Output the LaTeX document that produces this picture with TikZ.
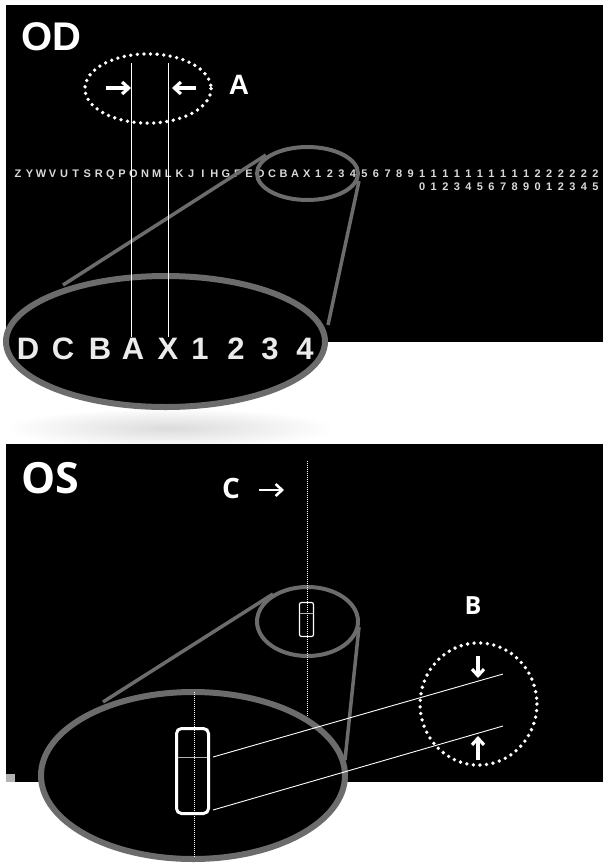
\documentclass[tikz,border=0pt]{standalone}
\usepackage{fontspec}
\setmainfont{Liberation Sans}
\newfontfamily\osfont{Open Sans}
\usetikzlibrary{arrows.meta}
\definecolor{lensgray}{RGB}{108,108,108}
\definecolor{chartgray}{RGB}{218,218,218}

\begin{document}
\begin{tikzpicture}[x=1pt,y=-1pt,
  lens/.style={draw=lensgray,fill=black},
  cone/.style={draw=lensgray,line width=3.5pt},
  dotring/.style={draw=white,line width=3.8pt,line cap=round,dash pattern=on 0pt off 6.6pt},
  guide/.style={draw=white,line width=0.9pt},
  fineguide/.style={draw=white,line width=0.5pt,dash pattern=on 1pt off 1pt},
  ptr/.style={draw=white,line width=3.2pt,-{Straight Barb[length=6.5pt,width=12pt]}},
  rowtxt/.style={text=chartgray,anchor=base,inner sep=0pt,font=\bfseries\fontsize{11}{11}\selectfont},
  bigtxt/.style={text=white!92!black,anchor=base,inner sep=0pt,font=\bfseries\fontsize{31}{31}\selectfont},
  lbl/.style={text=white,inner sep=0pt}]
\useasboundingbox (0,0) rectangle (603,865);
\fill[white] (0,0) rectangle (603,865);
% shadow under the OD lens
\shade[inner color=black!14,outer color=white] (170,428) ellipse (165 and 20);
% OD panel
\fill[black] (6,5) rectangle (603,342);
\node[lbl,font=\bfseries\fontsize{40}{40}\selectfont] (od) at (51,37) {OD};
\draw[dotring] (148,88.5) ellipse (63.1 and 34.6);
\node[lbl,font=\bfseries\fontsize{28}{28}\selectfont] (a) at (239,85) {A};
\node[rowtxt] (t0) at (18,177) {Z};
\node[rowtxt] (t1) at (29.55,177) {Y};
\node[rowtxt] (t2) at (41.1,177) {W};
\node[rowtxt] (t3) at (52.65,177) {V};
\node[rowtxt] (t4) at (64.2,177) {U};
\node[rowtxt] (t5) at (75.75,177) {T};
\node[rowtxt] (t6) at (87.3,177) {S};
\node[rowtxt] (t7) at (98.85,177) {R};
\node[rowtxt] (t8) at (110.4,177) {Q};
\node[rowtxt] (t9) at (121.95,177) {P};
\node[rowtxt] (t10) at (133.5,177) {O};
\node[rowtxt] (t11) at (145.05,177) {N};
\node[rowtxt] (t12) at (156.6,177) {M};
\node[rowtxt] (t13) at (168.15,177) {L};
\node[rowtxt] (t14) at (179.7,177) {K};
\node[rowtxt] (t15) at (191.25,177) {J};
\node[rowtxt] (t16) at (202.8,177) {I};
\node[rowtxt] (t17) at (214.35,177) {H};
\node[rowtxt] (t18) at (225.9,177) {G};
\node[rowtxt] (t19) at (237.45,177) {F};
\node[rowtxt] (t20) at (249,177) {E};
\node[rowtxt] (t21) at (260.55,177) {D};
\node[rowtxt] (t22) at (272.1,177) {C};
\node[rowtxt] (t23) at (283.65,177) {B};
\node[rowtxt] (t24) at (295.2,177) {A};
\node[rowtxt] (t25) at (306.75,177) {X};
\node[rowtxt] (t26) at (318.3,177) {1};
\node[rowtxt] (t27) at (329.85,177) {2};
\node[rowtxt] (t28) at (341.4,177) {3};
\node[rowtxt] (t29) at (352.95,177) {4};
\node[rowtxt] (t30) at (364.5,177) {5};
\node[rowtxt] (t31) at (376.05,177) {6};
\node[rowtxt] (t32) at (387.6,177) {7};
\node[rowtxt] (t33) at (399.15,177) {8};
\node[rowtxt] (t34) at (410.7,177) {9};
\node[rowtxt] (t35) at (422.25,177) {1};
\node[rowtxt] (t36) at (433.8,177) {1};
\node[rowtxt] (t37) at (445.35,177) {1};
\node[rowtxt] (t38) at (456.9,177) {1};
\node[rowtxt] (t39) at (468.45,177) {1};
\node[rowtxt] (t40) at (480,177) {1};
\node[rowtxt] (t41) at (491.55,177) {1};
\node[rowtxt] (t42) at (503.1,177) {1};
\node[rowtxt] (t43) at (514.65,177) {1};
\node[rowtxt] (t44) at (526.2,177) {1};
\node[rowtxt] (t45) at (537.75,177) {2};
\node[rowtxt] (t46) at (549.3,177) {2};
\node[rowtxt] (t47) at (560.85,177) {2};
\node[rowtxt] (t48) at (572.4,177) {2};
\node[rowtxt] (t49) at (583.95,177) {2};
\node[rowtxt] (t50) at (595.5,177) {2};
\node[rowtxt] (u0) at (422.25,190) {0};
\node[rowtxt] (u1) at (433.8,190) {1};
\node[rowtxt] (u2) at (445.35,190) {2};
\node[rowtxt] (u3) at (456.9,190) {3};
\node[rowtxt] (u4) at (468.45,190) {4};
\node[rowtxt] (u5) at (480,190) {5};
\node[rowtxt] (u6) at (491.55,190) {6};
\node[rowtxt] (u7) at (503.1,190) {7};
\node[rowtxt] (u8) at (514.65,190) {8};
\node[rowtxt] (u9) at (526.2,190) {9};
\node[rowtxt] (u10) at (537.75,190) {0};
\node[rowtxt] (u11) at (549.3,190) {1};
\node[rowtxt] (u12) at (560.85,190) {2};
\node[rowtxt] (u13) at (572.4,190) {3};
\node[rowtxt] (u14) at (583.95,190) {4};
\node[rowtxt] (u15) at (595.5,190) {5};
% OD lens
\coordinate (odsl) at (266,155);
\coordinate (odbl) at (63,285);
\coordinate (odsr) at (359,181);
\coordinate (odbr) at (328,325);
\draw[cone] (odsl) -- (odbl);
\draw[cone] (odsr) -- (odbr);
\draw[draw=lensgray,line width=4pt] (307.5,173.5) ellipse (50.5 and 26.5);
\draw[lens,line width=6pt] (165.5,341.5) ellipse (159.5 and 65.5);
\node[bigtxt] (bd) at (28,359) {D};
\node[bigtxt] (bc) at (63,359) {C};
\node[bigtxt] (bb) at (100,359) {B};
\node[bigtxt] (ba) at (133,359) {A};
\node[bigtxt] (bx) at (168,359) {X};
\node[bigtxt] (b1) at (200,359) {1};
\node[bigtxt] (b2) at (236,359) {2};
\node[bigtxt] (b3) at (270,359) {3};
\node[bigtxt] (b4) at (305,359) {4};
% guides for A
\coordinate (gl) at (131,63);
\coordinate (gr) at (168,63);
\draw[guide] (gl) -- (ba.north -| gl);
\draw[guide] (gr) -- (bx.north -| gr);
\coordinate (al) at (106,88);
\coordinate (ar) at (196,88);
\draw[ptr] (al) -- (gl |- al);
\draw[ptr] (ar) -- (172,88);
% OS panel
\fill[black] (6,444) rectangle (603,782);
\fill[gray!60] (6,774) rectangle (15,782);
\node[lbl,font=\osfont\bfseries\fontsize{43}{43}\selectfont] (os) at (50,478) {OS};
\node[lbl,font=\osfont\bfseries\fontsize{28}{28}\selectfont] (c) at (231,488) {C};
\coordinate (cl) at (259,490);
\coordinate (cr) at (284,490);
\draw[ptr,line width=2.6pt] (cl) -- (cr);
\coordinate (ctop) at (307,461);
\coordinate (cbot) at (307,722);
\coordinate (ossl) at (273,594);
\coordinate (osbl) at (103,702);
\coordinate (ossr) at (359,627);
\coordinate (osbr) at (345,760);
\draw[cone] (ossl) -- (osbl);
\draw[cone] (ossr) -- (osbr);
\draw[draw=lensgray,line width=4pt] (307.5,621.5) ellipse (50.5 and 34.5);
\draw[white,line width=1.2pt,rounded corners=2pt] (299.5,602.5) rectangle (313.5,636.5);
\draw[gray!60,line width=0.6pt] (300,613) -- (313,613);
\draw[fineguide] (ctop) -- (cbot);
\draw[lens,line width=6pt] (193,775.5) ellipse (152 and 83.5);
\draw[fineguide] (194,692) -- (194,857);
\draw[white,line width=3pt,rounded corners=5pt] (176.5,728.5) rectangle (208.5,813.5);
\draw[gray!60,line width=0.7pt] (178,757) -- (207,757);
\node[lbl,font=\osfont\bfseries\fontsize{25}{25}\selectfont] (b) at (473,606) {B};
\draw[dotring] (478.5,704) ellipse (58.4 and 61.1);
\coordinate (rt) at (213,757);
\coordinate (rb) at (213,810);
\coordinate (bt) at (503,674);
\coordinate (bb) at (503,726);
\draw[guide] (rt) -- (bt);
\draw[guide] (rb) -- (bb);
\draw[ptr] (478,656) -- (478,678);
\draw[ptr] (478,760) -- (478,736);
\end{tikzpicture}
\end{document}
